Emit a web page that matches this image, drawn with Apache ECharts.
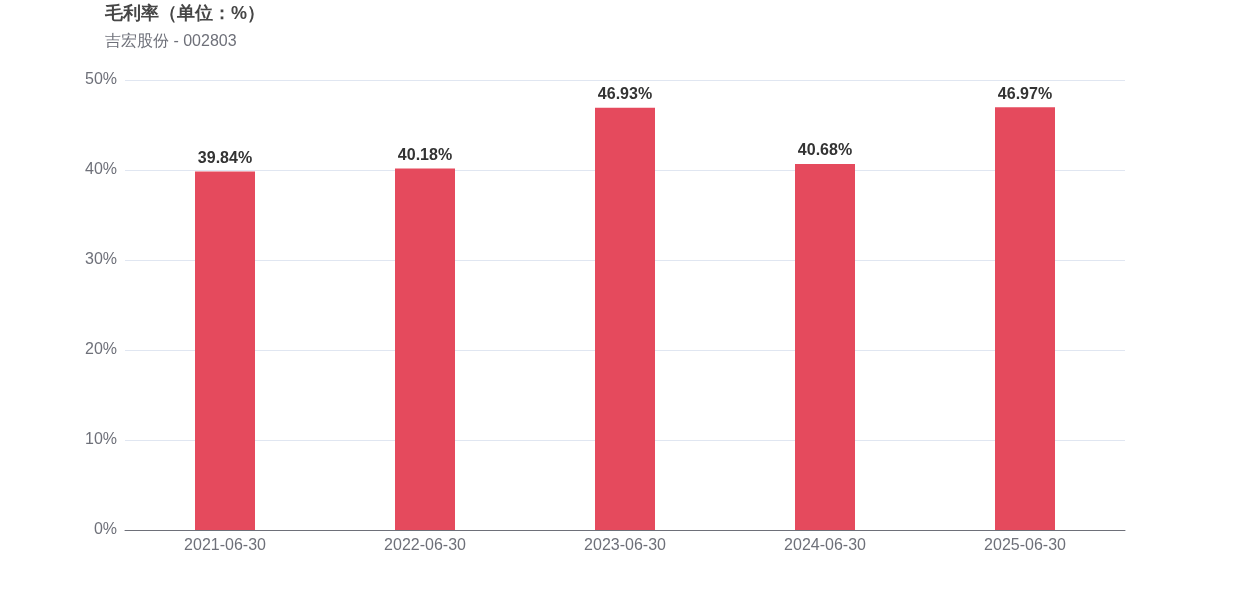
<!DOCTYPE html>
<html><head><meta charset="utf-8">
<script src="https://cdn.jsdelivr.net/npm/echarts@6/dist/echarts.min.js"></script>
<style>html,body{margin:0;padding:0;background:#fff}#c{width:1250px;height:600px}</style>
</head><body><div id="c"></div>
<script>
const categories = ['2021-06-30','2022-06-30','2023-06-30','2024-06-30','2025-06-30'];
const values = [39.84, 40.18, 46.93, 40.68, 46.97];
const titleText = '毛利率（单位：%）';
const subText = '吉宏股份 - 002803';
const chart = echarts.init(document.getElementById('c'));
chart.setOption({
  animation: false,
  title: {
    text: titleText, subtext: subText, left: 100, top: 0,
    textStyle: {fontSize: 18, fontWeight: 'bold', color: '#464646', fontFamily: 'sans-serif'},
    subtextStyle: {fontSize: 16, color: '#6e7079', fontFamily: 'sans-serif'},
    itemGap: 11
  },
  grid: {left: 125, right: 125, top: 80, bottom: 70},
  xAxis: {
    type: 'category', data: categories,
    axisTick: {show: false},
    axisLine: {lineStyle: {color: '#6e7079'}},
    axisLabel: {fontSize: 16, color: '#6e7079', margin: 8, fontFamily: 'Liberation Sans, sans-serif'}
  },
  yAxis: {
    type: 'value', min: 0, max: 50, interval: 10,
    axisLabel: {formatter: '{value}%', fontSize: 16, color: '#6e7079', margin: 8, fontFamily: 'Liberation Sans, sans-serif'},
    splitLine: {lineStyle: {color: '#e0e6f1'}}
  },
  series: [{
    type: 'bar', data: values, barWidth: 60,
    itemStyle: {color: '#e54a5d'},
    label: {show: true, position: 'top', formatter: p => p.value.toFixed(2) + '%', fontSize: 16, fontWeight: 'bold', color: '#333', fontFamily: 'Liberation Sans, sans-serif'}
  }]
});
</script></body></html>
